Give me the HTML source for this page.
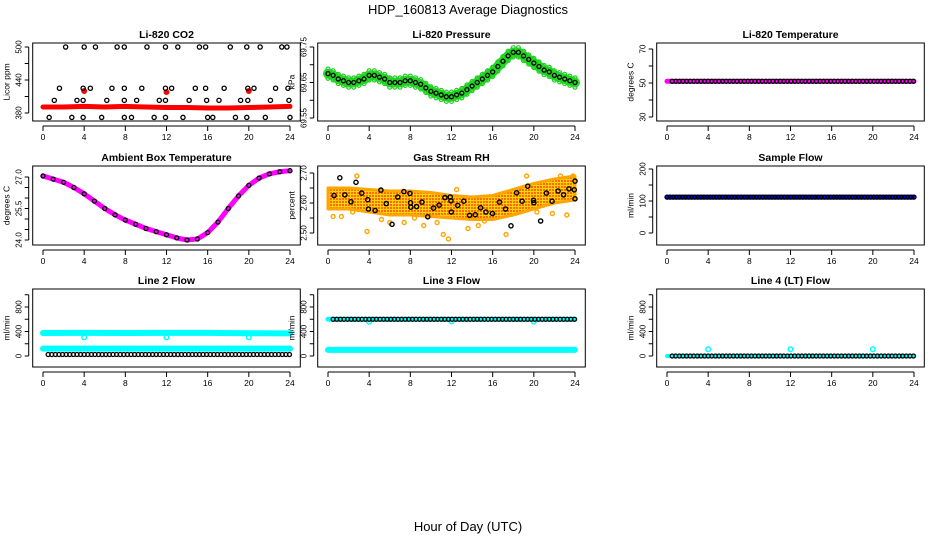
<!DOCTYPE html>
<html><head><meta charset="utf-8">
<style>
html,body{margin:0;padding:0;background:#fff;}
svg{display:block;font-family:"Liberation Sans",Arial,sans-serif;}
</style></head>
<body>
<svg id="c" width="936" height="540" viewBox="0 0 936 540" xmlns="http://www.w3.org/2000/svg">
<text x="468" y="14" text-anchor="middle" font-size="13">HDP_160813  Average Diagnostics</text>
<text x="468" y="531" text-anchor="middle" font-size="13">Hour of Day (UTC)</text>
<defs>
<pattern id="rhpat" width="3" height="3" patternUnits="userSpaceOnUse">
<rect width="3" height="3" fill="#ffd400"/><rect width="2" height="2" fill="#ff4500" opacity="0.75"/>
</pattern>
</defs>
</svg>
<script>
// ---------- data ----------
const xTicks=[0,4,8,12,16,20,24];
// CO2 panel
const co2RedHours=[0,2,4,6,8,10,12,14,16,18,20,22,24];
const co2RedVals=[391,391,392,391,392,391,390,390,389,389,390,391,392];
const co2SpikeHours=[4,12,20];
const co2SpikeVals=[420,418,420];
const co2Hours500=[2.2,4.0,5.1,7.2,7.9,10.1,11.9,13.1,15.2,15.8,18.2,19.8,21.1,23.2,23.7];
const co2Hours425=[1.6,3.9,4.6,6.7,7.9,9.6,11.9,12.5,14.8,15.8,17.6,19.9,20.5,22.6,23.8];
const co2Hours403=[1.1,3.3,3.9,6.2,7.9,9.1,11.3,11.9,14.2,15.9,17.1,19.2,19.9,22.1,23.9];
const co2Hours372=[0.6,2.8,3.9,5.7,7.9,8.6,10.8,11.9,13.6,16.0,16.5,18.7,19.8,21.6,24.0];
// Pressure
const presHours=[0,0.5,1,1.5,2,2.5,3,3.5,4,4.5,5,5.5,6,6.5,7,7.5,8,8.5,9,9.5,10,10.5,11,11.5,12,12.5,13,13.5,14,14.5,15,15.5,16,16.5,17,17.5,18,18.5,19,19.5,20,20.5,21,21.5,22,22.5,23,23.5,24];
const presVals=[69.675,69.67,69.66,69.655,69.65,69.65,69.655,69.66,69.67,69.67,69.665,69.66,69.65,69.65,69.65,69.655,69.655,69.65,69.645,69.635,69.625,69.62,69.615,69.61,69.61,69.615,69.62,69.63,69.64,69.65,69.66,69.67,69.68,69.695,69.71,69.725,69.735,69.735,69.725,69.715,69.705,69.695,69.685,69.68,69.67,69.665,69.66,69.655,69.65];
// Li-820 temperature
const tempHours=[0,24];
const tempVals=[51,51];
// Ambient box temperature
const ambHours=[0,1,2,3,4,5,6,7,8,9,10,11,12,13,14,15,16,17,18,19,20,21,22,23,24];
const ambVals=[27.05,26.9,26.75,26.5,26.2,25.85,25.5,25.2,24.95,24.75,24.55,24.4,24.25,24.1,24.0,24.05,24.35,24.85,25.5,26.1,26.6,26.95,27.15,27.25,27.3];
// Gas stream RH
const rhHours=[0.59,1.15,1.64,2.23,2.72,3.27,3.86,3.93,4.58,5.14,5.66,6.22,6.78,7.37,7.96,8.02,8.05,8.61,9.13,9.69,10.25,10.8,11.36,11.88,11.95,11.98,12.6,13.19,13.75,14.31,14.83,15.35,15.98,16.66,17.25,17.78,18.33,18.86,19.41,19.97,20.0,20.66,21.22,21.77,22.36,22.89,23.41,23.93,24.0,24.0];
const rhVals=[2.625,2.684,2.627,2.604,2.669,2.633,2.611,2.58,2.575,2.643,2.598,2.529,2.62,2.638,2.632,2.601,2.586,2.588,2.603,2.554,2.583,2.593,2.618,2.62,2.607,2.57,2.592,2.606,2.559,2.561,2.584,2.57,2.565,2.603,2.58,2.524,2.634,2.606,2.656,2.609,2.601,2.54,2.633,2.606,2.64,2.627,2.647,2.644,2.614,2.673];
const rhBandHours=[0,2,4,6,8,10,12,14,16,18,20,22,24];
const rhBandLow=[2.58,2.58,2.57,2.56,2.56,2.555,2.55,2.545,2.545,2.56,2.58,2.6,2.61];
const rhBandHigh=[2.65,2.65,2.645,2.64,2.64,2.635,2.625,2.62,2.625,2.645,2.665,2.68,2.69];
const rhOutHours=[0.5,1.3,2.4,2.8,3.8,5.2,6.0,7.4,8.4,9.3,10.6,11.2,11.7,12.5,13.6,14.6,15.2,17.3,19.3,20.3,21.8,22.6,23.2,23.8];
const rhOutVals=[2.555,2.555,2.57,2.69,2.505,2.545,2.535,2.535,2.55,2.525,2.535,2.495,2.48,2.645,2.515,2.525,2.54,2.495,2.69,2.57,2.565,2.69,2.56,2.69];
// Sample flow
const sfHours=[0,24];
const sfVals=[112,112];
// Line 2 flow
const l2UpperHours=[0,4,8,12,16,20,24];
const l2UpperVals=[375,378,376,377,378,372,370];
const l2LowerVals=[121,121,120,121,121,120,120];
const dipHours=[4,12,20];
const l2DipVals=[304,304,304];
// Line 3 flow
const l3BlackVals=[600,600,600,600,600,600,600];
const l3CyanLowVals=[100,100,100,100,100,100,100];
const l3DipVals=[560,565,560];
// Line 4 flow
const l4Vals=[0,0,0,0,0,0,0];
const l4DipVals=[110,110,110];

// ---------- drawing ----------
const svg=document.getElementById('c');
const NS='http://www.w3.org/2000/svg';
function mk(tag,attrs,parent){const e=document.createElementNS(NS,tag);for(const k in attrs)e.setAttribute(k,attrs[k]);(parent||svg).appendChild(e);return e;}
const colX0=[43,328,667];
const rowTop=[43,166,289],rowBot=[121,245,367];
const PXH=247/24;

function panel(opt){
  const g=mk('g',{});
  
  
  const x0=colX0[opt.col],top=rowTop[opt.row],bot=rowBot[opt.row];
  const left=x0-PXH,right=x0+247+PXH;
  const xs=h=>x0+h*PXH;
  const [v1,y1,v2,y2]=opt.ymap;
  const ys=v=>y1+(v-v1)*(y2-y1)/(v2-v1);
  const body=mk('g',{},g);
  const frame=mk('rect',{x:left,y:top,width:right-left,height:bot-top,fill:'none',stroke:'#000','stroke-width':1},g);
  
  
  const t=mk('text',{x:(left+right)/2,y:top-5,'text-anchor':'middle','font-size':10.5,'font-weight':'bold'},g);
  t.textContent=opt.title;
  
  
  const xa=mk('g',{},g);
  
  
  mk('line',{x1:xs(0),x2:xs(24),y1:bot+5,y2:bot+5,stroke:'#000'},xa);
  xTicks.forEach(h=>{
    mk('line',{x1:xs(h),x2:xs(h),y1:bot+5,y2:bot+10,stroke:'#000'},xa);
    const l=mk('text',{x:xs(h),y:bot+19,'text-anchor':'middle','font-size':8.5},xa);
    l.textContent=h;
    
    
  });
  const ya=mk('g',{},g);
  
  
  const tk=opt.yticks;
  mk('line',{x1:left-4,x2:left-4,y1:ys(tk[0]),y2:ys(tk[tk.length-1]),stroke:'#000'},ya);
  tk.forEach(v=>{mk('line',{x1:left-4,x2:left-8,y1:ys(v),y2:ys(v),stroke:'#000'},ya);});
  opt.ylabels.forEach((s,i)=>{
    const v=opt.ylabelVals[i];
    const l=mk('text',{x:0,y:0,'text-anchor':'middle','font-size':8,transform:`translate(${left-11},${ys(v)}) rotate(-90)`},ya);
    l.textContent=s;
    
    
  });
  const yt=mk('text',{x:0,y:0,'text-anchor':'middle','font-size':8.5,transform:`translate(${left-23},${(top+bot)/2}) rotate(-90)`},ya);
  yt.textContent=opt.ytitle;
  
  
  return {g:body,xs,ys};
}
function line(p,hs,vs,color,w,name){
  const pts=hs.map((h,i)=>p.xs(h)+','+p.ys(vs[i])).join(' ');
  const e=mk('polyline',{points:pts,fill:'none',stroke:color,'stroke-width':w,'stroke-linejoin':'round','stroke-linecap':'round'},p.g);
  
  
}
function pts(p,hs,vs,color,r,sw,name,fill){
  const gg=mk('g',{},p.g);
  
  
  hs.forEach((h,i)=>{mk('circle',{cx:p.xs(h),cy:p.ys(vs[i]),r:r,fill:fill||'none',stroke:color,'stroke-width':sw},gg);});
}
function dots(p,hs,v,color,step,name){
  const hh=[],vv=[];
  for(let h=hs[0];h<=hs[1]+1e-6;h+=step){hh.push(h);vv.push(v);}
  pts(p,hh,vv,color,2,1.3,name);
}

let p=panel({name:'panel-co2',col:0,row:0,title:'Li-820 CO2',ytitle:'Licor ppm',ymap:[500,47,380,113],yticks:[380,410,440,470,500],ylabels:['380','440','500'],ylabelVals:[380,440,500]});
line(p,co2RedHours,co2RedVals,'#ff0000',5,'co2-series');
pts(p,co2SpikeHours,co2SpikeVals,'#ff0000',2.2,1.5,'co2-spikes','#ff0000');
pts(p,co2Hours500,co2Hours500.map(()=>500),'#000',2.1,1.3,'co2-avg-500');
pts(p,co2Hours425,co2Hours425.map(()=>425),'#000',2.1,1.3,'co2-avg-425');
pts(p,co2Hours403,co2Hours403.map(()=>403),'#000',2.1,1.3,'co2-avg-403');
pts(p,co2Hours372,co2Hours372.map(()=>372),'#000',2.1,1.3,'co2-avg-372');

p=panel({name:'panel-pressure',col:1,row:0,title:'Li-820 Pressure',ytitle:'kPa',ymap:[69.75,47,69.55,118],yticks:[69.55,69.60,69.65,69.70,69.75],ylabels:['69.55','69.65','69.75'],ylabelVals:[69.55,69.65,69.75]});
line(p,presHours,presVals,'#22dd22',10,'pressure-series');
pts(p,presHours,presVals.map(v=>v+0.013),'#22cc22',2,1.2,'pressure-upper');
pts(p,presHours,presVals.map(v=>v-0.013),'#22cc22',2,1.2,'pressure-lower');
pts(p,presHours,presVals,'#000',2,1.3,'pressure-avg');

p=panel({name:'panel-li820-temp',col:2,row:0,title:'Li-820 Temperature',ytitle:'degrees C',ymap:[70,49,30,117],yticks:[30,40,50,60,70],ylabels:['30','50','70'],ylabelVals:[30,50,70]});
line(p,tempHours,tempVals,'#ff00ff',5,'temp-series');
dots(p,[0.5,24],51,'#000',0.35,'temp-avg');

p=panel({name:'panel-ambient-temp',col:0,row:1,title:'Ambient Box Temperature',ytitle:'degrees C',ymap:[27,177,24,240],yticks:[24,24.5,25,25.5,26,26.5,27],ylabels:['24.0','25.5','27.0'],ylabelVals:[24,25.5,27]});
line(p,ambHours,ambVals,'#ff00ff',5,'ambient-series');
pts(p,ambHours,ambVals,'#000',2,1.3,'ambient-avg');

p=panel({name:'panel-rh',col:1,row:1,title:'Gas Stream RH',ytitle:'percent',ymap:[2.70,173,2.50,233],yticks:[2.50,2.55,2.60,2.65,2.70],ylabels:['2.50','2.60','2.70'],ylabelVals:[2.50,2.60,2.70]});
{
  const up=rhBandHours.map((h,i)=>p.xs(h)+','+p.ys(rhBandHigh[i]));
  const lo=rhBandHours.map((h,i)=>p.xs(h)+','+p.ys(rhBandLow[i])).reverse();
  const band=mk('polygon',{points:up.concat(lo).join(' '),fill:'url(#rhpat)',stroke:'#ffa500','stroke-width':3,'stroke-linejoin':'round'},p.g);
  
  
}
pts(p,rhOutHours,rhOutVals,'#ffa500',2,1.4,'rh-outliers');
pts(p,rhHours,rhVals,'#000',2.1,1.4,'rh-avg');

p=panel({name:'panel-sample-flow',col:2,row:1,title:'Sample Flow',ytitle:'ml/min',ymap:[200,169,0,233],yticks:[0,50,100,150,200],ylabels:['0','100','200'],ylabelVals:[0,100,200]});
line(p,sfHours,sfVals,'#0000ff',5,'sample-flow-series');
dots(p,[0,24],112,'#000',0.3,'sample-flow-avg');

const flowTicks=[0,200,400,600,800,1000];
p=panel({name:'panel-line2-flow',col:0,row:2,title:'Line 2 Flow',ytitle:'ml/min',ymap:[800,307,0,356],yticks:flowTicks,ylabels:['0','400','800'],ylabelVals:[0,400,800]});
line(p,l2UpperHours,l2UpperVals,'#00ffff',6,'line2-upper');
line(p,l2UpperHours,l2LowerVals,'#00ffff',6,'line2-lower');
pts(p,dipHours,l2DipVals,'#00ffff',2.3,1.5,'line2-dips');
dots(p,[0.5,24],25,'#000',0.35,'line2-avg');

p=panel({name:'panel-line3-flow',col:1,row:2,title:'Line 3 Flow',ytitle:'ml/min',ymap:[800,307,0,356],yticks:flowTicks,ylabels:['0','400','800'],ylabelVals:[0,400,800]});
line(p,l2UpperHours,l3BlackVals,'#00ffff',5,'line3-upper');
line(p,l2UpperHours,l3CyanLowVals,'#00ffff',6,'line3-lower');
pts(p,dipHours,l3DipVals,'#00ffff',2.3,1.5,'line3-dips');
dots(p,[0.5,24],600,'#000',0.35,'line3-avg');

p=panel({name:'panel-line4-flow',col:2,row:2,title:'Line 4 (LT) Flow',ytitle:'ml/min',ymap:[800,307,0,356],yticks:flowTicks,ylabels:['0','400','800'],ylabelVals:[0,400,800]});
line(p,l2UpperHours,l4Vals,'#00ffff',4,'line4-series');
pts(p,dipHours,l4DipVals,'#00ffff',2.3,1.5,'line4-dips');
dots(p,[0.5,24],0,'#000',0.35,'line4-avg');
</script>
</body></html>
